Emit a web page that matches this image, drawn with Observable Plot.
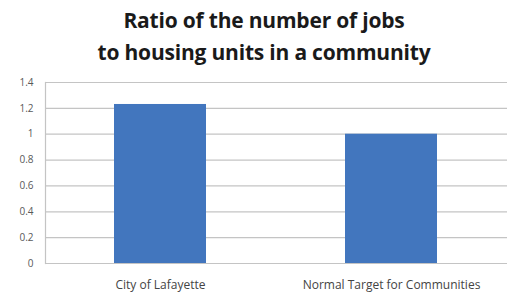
<!DOCTYPE html>
<html>
<head>
<meta charset="utf-8">
<script src="https://cdn.jsdelivr.net/npm/d3@7"></script>
<script src="https://cdn.jsdelivr.net/npm/@observablehq/plot@0.6"></script>
<style>
  html, body { margin: 0; padding: 0; background: #fff; }
  #title { width: 508px; height: 70px; box-sizing: border-box; padding-top: 4px; text-align: center;
    font-family: "Open Sans", Lato, sans-serif; font-weight: bold; font-size: 21px; line-height: 32px; color: #1a1a1a; padding-left: 20px; letter-spacing: -0.2px; }
  #chart svg { display: block; }
</style>
</head>
<body>
<div id="title">Ratio of the number of jobs<br>to housing units in a community</div>
<div id="chart"></div>
<script>
const categories = ["City of Lafayette", "Normal Target for Communities"];
const values = [1.23, 1.0];
const yTicks = [0, 0.2, 0.4, 0.6, 0.8, 1, 1.2, 1.4];

const data = categories.map((c, i) => ({category: c, value: values[i]}));

const chart = Plot.plot({
  width: 508,
  height: 224,
  marginTop: 12,
  marginBottom: 31,
  marginLeft: 45,
  marginRight: 1,
  style: {fontFamily: "'Open Sans', Lato, sans-serif", fontSize: "10px", color: "#595959", background: "#fff"},
  x: {domain: categories, paddingInner: 0.6, paddingOuter: 0.3, label: null},
  y: {domain: [0, 1.4], label: null},
  marks: [
    Plot.ruleY(yTicks, {stroke: "#c4c4c4", strokeWidth: 1.2}),
    Plot.frame({anchor: "left", stroke: "#c4c4c4", strokeWidth: 1.2}),
    Plot.barY(data, {x: "category", y: "value", fill: "#4276be"}),
    Plot.axisY({ticks: yTicks, tickSize: 0, tickPadding: 12, tickFormat: d => String(d), label: null, fill: "#595959"}),
    Plot.axisX({tickSize: 0, tickPadding: 17, label: null, fill: "#444", fontSize: 12})
  ]
});
document.getElementById("chart").appendChild(chart);
</script>
</body>
</html>
